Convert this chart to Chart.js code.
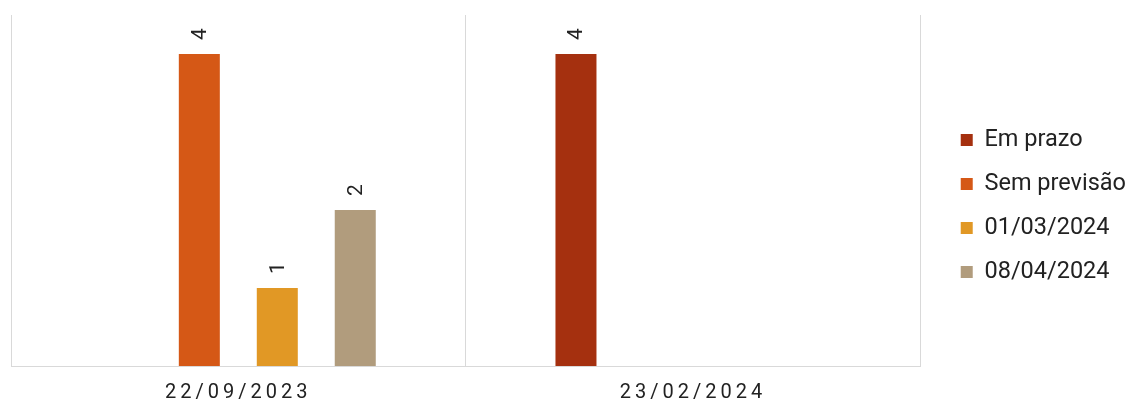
<!DOCTYPE html>
<html>
<head>
<meta charset="utf-8">
<script src="https://cdn.jsdelivr.net/npm/chart.js@4"></script>
<style>
  html, body { margin: 0; padding: 0; background: #fff; }
  #wrap { width: 1127px; height: 403px; }
</style>
</head>
<body>
<div id="wrap"><canvas id="prazoChart"></canvas></div>
<script>
const dates = ['22/09/2023', '23/02/2024'];
const seriesNames = ['Em prazo', 'Sem previsão', '01/03/2024', '08/04/2024'];
const emPrazo = [null, 4];
const semPrevisao = [4, null];
const mar2024 = [1, null];
const abr2024 = [2, null];
const seriesColors = ['#A5300F', '#D55816', '#E19825', '#B19C7D'];

const FONT = 'Roboto, "Liberation Sans", sans-serif';
const textColor = '#222222';

// value labels written vertically above each bar
const barLabels = {
    id: 'barLabels',
    afterDatasetsDraw(chart) {
        const ctx = chart.ctx;
        ctx.save();
        ctx.font = '21px ' + FONT;
        ctx.fillStyle = textColor;
        ctx.textAlign = 'center';
        ctx.textBaseline = 'middle';
        chart.data.datasets.forEach((ds, di) => {
            chart.getDatasetMeta(di).data.forEach((bar, i) => {
                if (ds.data[i] == null) return;
                ctx.save();
                ctx.translate(bar.x, bar.y - 20);
                ctx.rotate(-Math.PI / 2);
                ctx.fillText(String(ds.data[i]), 0, 1);
                ctx.restore();
            });
        });
        ctx.restore();
    }
};

// category labels with wide letter spacing
const spacedTicks = {
    id: 'spacedTicks',
    afterDraw(chart) {
        const ctx = chart.ctx;
        const x = chart.scales.x;
        const spacing = 4;
        ctx.save();
        ctx.font = '20px ' + FONT;
        ctx.fillStyle = textColor;
        ctx.textBaseline = 'middle';
        ctx.textAlign = 'left';
        dates.forEach((label, i) => {
            const chars = label.split('');
            const widths = chars.map(c => ctx.measureText(c).width);
            const total = widths.reduce((a, b) => a + b, 0) + spacing * (chars.length - 1);
            let cx = x.getPixelForValue(i) - total / 2 - 2;
            chars.forEach((c, k) => {
                ctx.fillText(c, cx, 393);
                cx += widths[k] + spacing;
            });
        });
        ctx.restore();
    }
};

const ctx = document.getElementById('prazoChart').getContext('2d');
new Chart(ctx, {
    type: 'bar',
    data: {
        labels: dates,
        datasets: [
            { label: seriesNames[0], data: emPrazo, backgroundColor: seriesColors[0] },
            { label: seriesNames[1], data: semPrevisao, backgroundColor: seriesColors[1] },
            { label: seriesNames[2], data: mar2024, backgroundColor: seriesColors[2] },
            { label: seriesNames[3], data: abr2024, backgroundColor: seriesColors[3] }
        ]
    },
    options: {
        responsive: true,
        maintainAspectRatio: false,
        animation: false,
        datasets: {
            bar: { categoryPercentage: 0.686, barPercentage: 0.526 }
        },
        layout: { padding: { left: 11, right: -9, top: 9, bottom: 0 } },
        scales: {
            x: {
                grid: { color: '#d9d9d9', lineWidth: 1, drawTicks: false, offset: true },
                border: { display: true, color: '#d9d9d9', width: 1 },
                ticks: { display: false },
                afterFit(s) { s.height = 37; }
            },
            xTop: {
                type: 'category',
                position: 'top',
                grid: { display: false },
                border: { display: false },
                ticks: { display: false },
                afterFit(s) { s.height = 6; }
            },
            y: {
                display: false,
                min: 0,
                max: 4.5
            },
            gap: {
                type: 'linear',
                position: 'right',
                grid: { display: false },
                border: { display: false },
                ticks: { display: false },
                afterFit(s) { s.width = 20; }
            }
        },
        plugins: {
            legend: {
                position: 'right',
                align: 'center',
                labels: {
                    boxWidth: 12,
                    boxHeight: 12,
                    padding: 20.5,
                    color: textColor,
                    font: { size: 23.5, family: FONT }
                }
            },
            tooltip: { enabled: false }
        }
    },
    plugins: [barLabels, spacedTicks]
});
</script>
</body>
</html>
